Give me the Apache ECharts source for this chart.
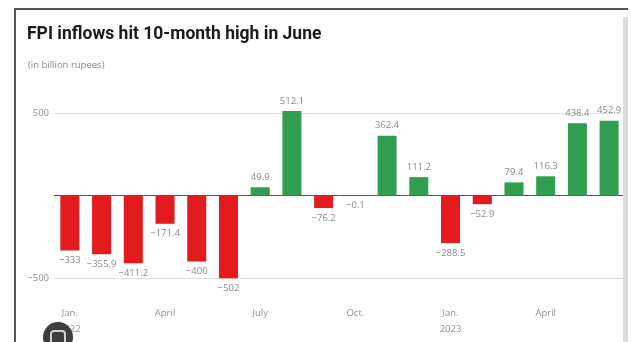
<!DOCTYPE html>
<html>
<head>
<meta charset="utf-8">
<script src="https://cdn.jsdelivr.net/npm/echarts@6/dist/echarts.min.js"></script>
<style>
  html, body { margin: 0; padding: 0; background: #fff; }
  #chart { width: 631px; height: 342px; }
</style>
</head>
<body>
<div id="chart"></div>
<script>
// Monthly FPI flows, Jan 2022 – Jun 2023 (billion rupees)
const months = ['Jan. 2022', 'Feb. 2022', 'Mar. 2022', 'April 2022', 'May 2022', 'June 2022',
  'July 2022', 'Aug. 2022', 'Sept. 2022', 'Oct. 2022', 'Nov. 2022', 'Dec. 2022',
  'Jan. 2023', 'Feb. 2023', 'Mar. 2023', 'April 2023', 'May 2023', 'June 2023'];
const flows = [-333, -355.9, -411.2, -171.4, -400, -502, 49.9, 512.1, -76.2, -0.1,
  362.4, 111.2, -288.5, -52.9, 79.4, 116.3, 438.4, 452.9];
// Axis tick labels shown under the category axis (others left blank)
const tickLabels = {0: 'Jan.\n2022', 3: 'April', 6: 'July', 9: 'Oct.', 12: 'Jan.\n2023', 15: 'April'};
const yTicks = [-500, 0, 500];

const RED = '#e31b1e';
const GREEN = '#2f9e4f';

const fmt = v => (v < 0 ? '\u2212' + Math.abs(v) : String(v));

const chart = echarts.init(document.getElementById('chart'), null, { renderer: 'canvas' });

chart.setOption({
  animation: false,
  backgroundColor: '#ffffff',
  title: [
    {
      text: 'FPI inflows hit 10-month high in June',
      left: 22, top: 21,
      textStyle: { fontFamily: 'Roboto', fontWeight: 'bold', fontSize: 17.5, color: '#1a1a1a' }
    },
    {
      text: '(in billion rupees)',
      left: 23, top: 55,
      textStyle: { fontFamily: 'Open Sans', fontWeight: 'normal', fontSize: 9.5, color: '#8a8a8a' }
    }
  ],
  graphic: [
    // frame of the card
    { type: 'line', shape: { x1: 14, y1: 9, x2: 628, y2: 9 }, style: { stroke: '#555', lineWidth: 2 }, z: 10 },
    { type: 'line', shape: { x1: 15, y1: 9, x2: 15, y2: 342 }, style: { stroke: '#555', lineWidth: 2 }, z: 10 },
    { type: 'rect', shape: { x: 623, y: 17, width: 5, height: 325 }, style: { fill: '#dcdcdc' }, z: 10 },
    // round overlay button at bottom-left
    { type: 'circle', shape: { cx: 58, cy: 337, r: 15 }, style: { fill: '#3d3d3d' }, z: 20 },
    { type: 'rect', shape: { x: 51, y: 331, width: 14, height: 14, r: 3 }, style: { fill: 'none', stroke: '#cfcfcf', lineWidth: 2 }, z: 21 }
  ],
  grid: { left: 54, right: 6, top: 113, bottom: 64, containLabel: false },
  xAxis: {
    type: 'category',
    data: months,
    boundaryGap: true,
    axisLine: { show: false },
    axisTick: { show: false },
    axisLabel: {
      interval: 0,
      margin: 27,
      fontFamily: 'Open Sans',
      fontSize: 9.5,
      lineHeight: 16,
      color: '#8f8f8f',
      formatter: (v, i) => tickLabels[i] || ''
    }
  },
  yAxis: {
    type: 'value',
    min: yTicks[0],
    max: yTicks[yTicks.length - 1],
    interval: 500,
    axisLine: { show: false },
    axisTick: { show: false },
    axisLabel: {
      margin: 5,
      fontFamily: 'Open Sans',
      fontSize: 9.5,
      color: '#8f8f8f',
      formatter: v => (v === 0 ? '' : fmt(v))
    },
    splitLine: { show: true, lineStyle: { color: ['#dedede', '#555555', '#dedede'], width: 1 } }
  },
  series: [{
    type: 'bar',
    clip: false,
    barWidth: '60%',
    data: flows.map(v => ({
      value: v,
      itemStyle: { color: v < 0 ? RED : GREEN },
      label: { position: v < 0 ? 'bottom' : 'top' }
    })),
    label: {
      show: true,
      distance: 5,
      fontFamily: 'Open Sans',
      fontSize: 9.5,
      color: '#8a8a8a',
      formatter: p => fmt(p.value)
    }
  }]
});
</script>
</body>
</html>
